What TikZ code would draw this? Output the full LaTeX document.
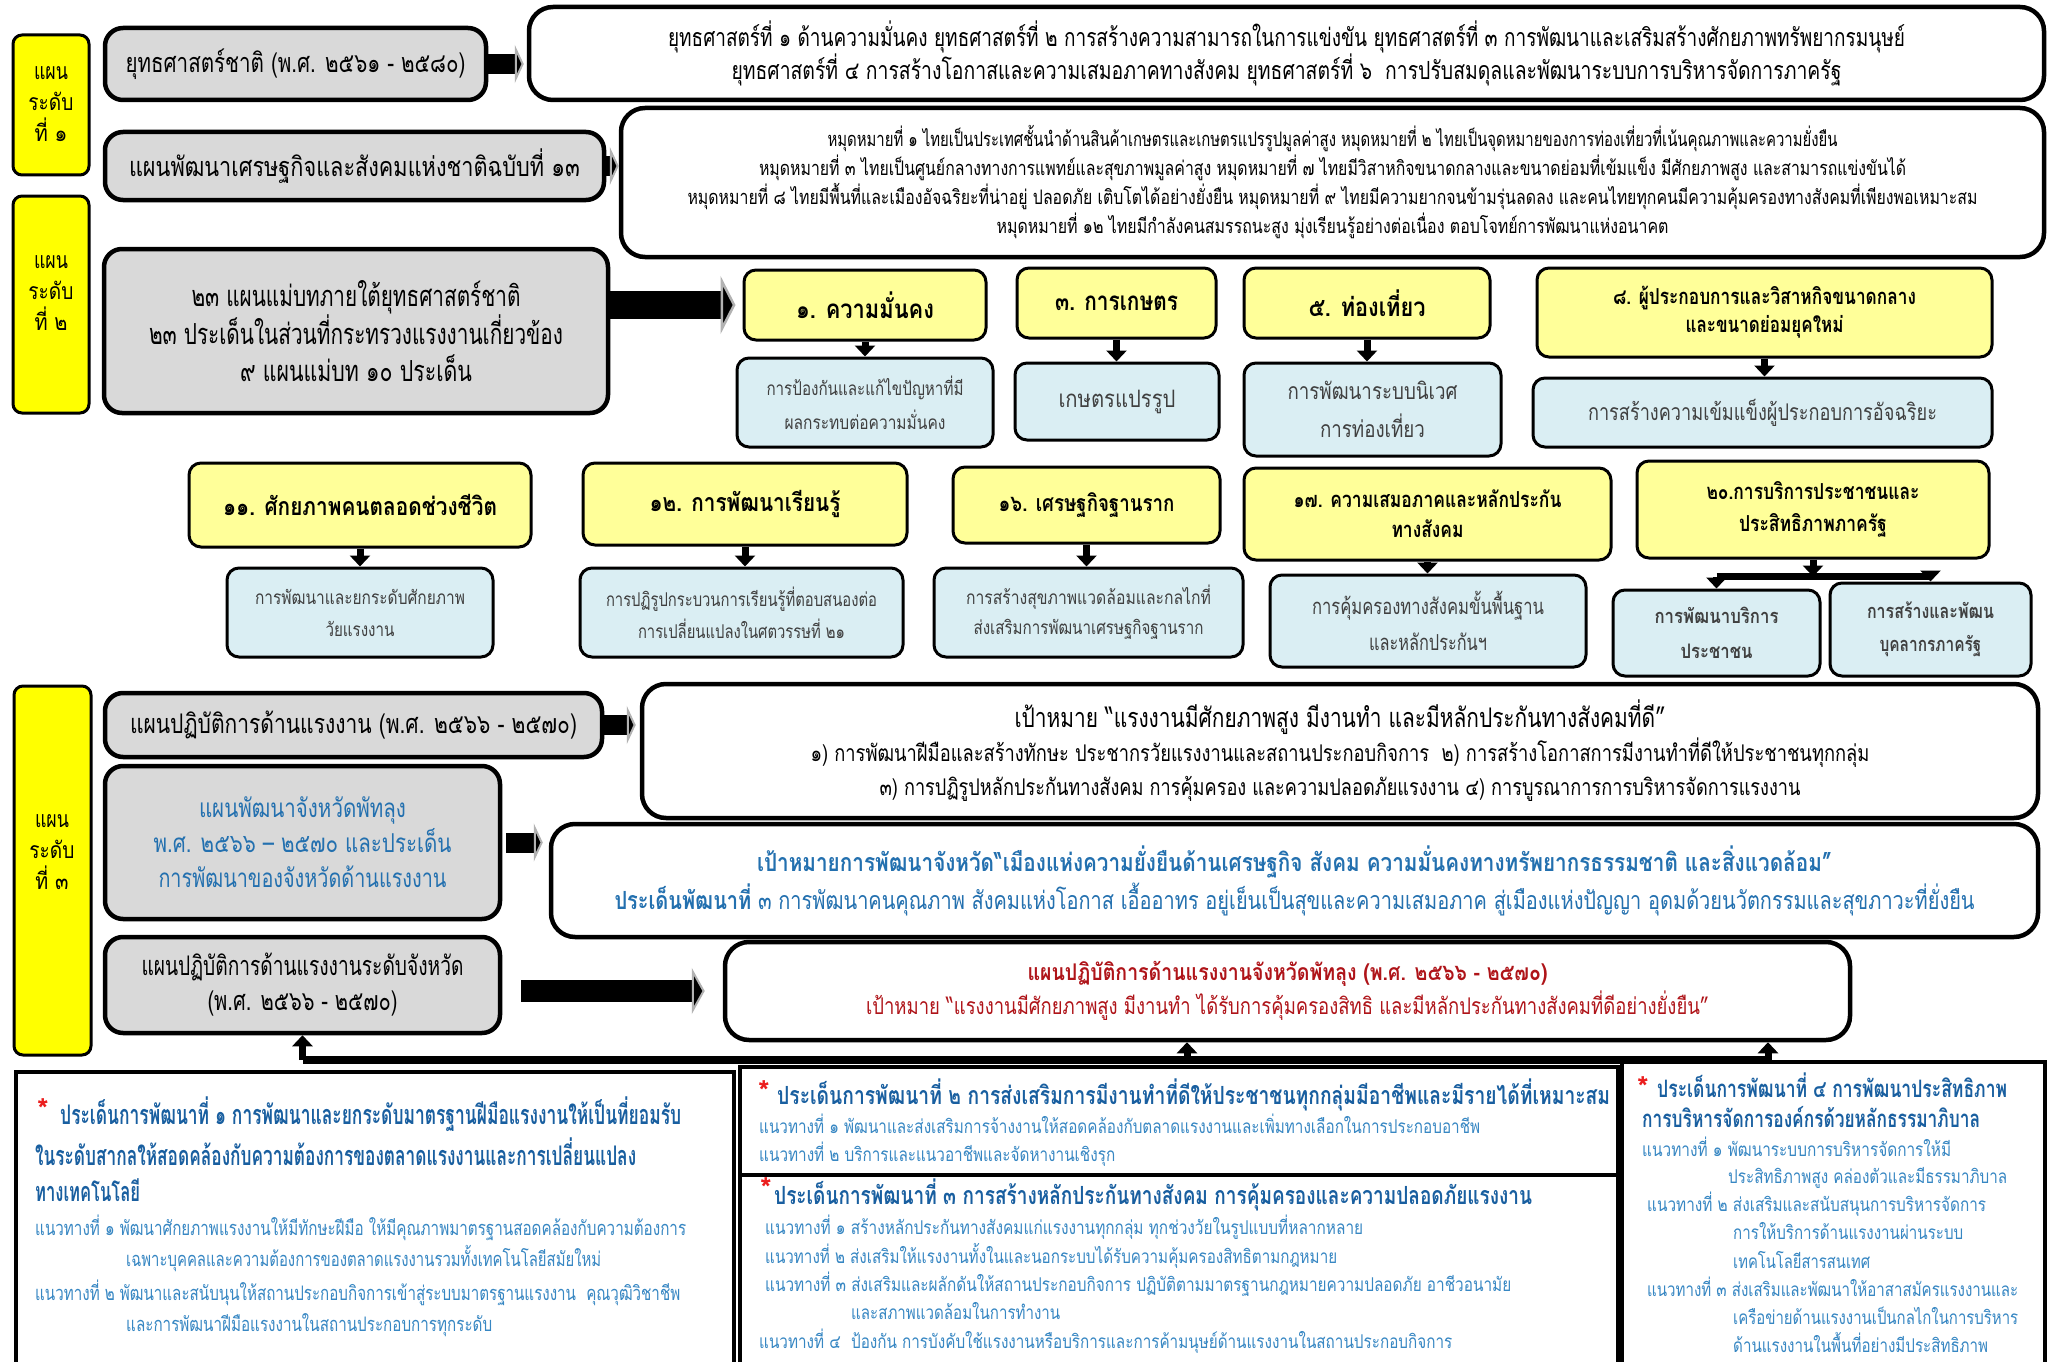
\documentclass[tikz,border=0pt]{standalone}
\usepackage{fontspec}
\setmainfont{Loma}[Script=Thai]
\usepackage{graphicx}
\usetikzlibrary{arrows.meta}
\definecolor{tagyellow}{RGB}{255,255,0}
\definecolor{boxgray}{RGB}{217,217,217}
\definecolor{lightyellow}{RGB}{255,255,153}
\definecolor{lightblue}{RGB}{218,238,243}
\definecolor{textblue}{RGB}{35,112,175}
\definecolor{headblue}{RGB}{25,95,160}
\definecolor{lineblue}{RGB}{55,135,195}
\definecolor{darkred}{RGB}{175,20,25}
\definecolor{starred}{RGB}{235,30,30}
\newsavebox\fitbx
\newlength\fitlen
\newcommand\fw[2]{\sbox\fitbx{#2}\setlength\fitlen{\wd\fitbx}\pgfmathsetmacro\fitr{#1/\fitlen}\scalebox{\fitr}[1]{\usebox\fitbx}}
\newcommand\fs[2]{\fontsize{#1}{#2}\selectfont}
\newcommand\bx[7]{\node[#1, minimum width={#5pt-#3pt}, minimum height={#6pt-#4pt}] (#2) at ({(#3+#5)/2},{(#4+#6)/2}) {#7};}
\tikzset{
 tagbox/.style={draw=black, line width=3pt, fill=tagyellow, rounded corners=9pt, inner sep=0pt},
 tagtxt/.style={inner sep=0pt, align=center, font=\fs{23}{31}},
 graybox/.style={draw=black, line width=4.5pt, fill=boxgray, rounded corners=18pt, inner sep=0pt, align=center},
 wbox/.style={draw=black, line width=4.5pt, fill=white, rounded corners=24pt, inner sep=0pt, align=center},
 ybox/.style={draw=black, line width=3pt, fill=lightyellow, rounded corners=12pt, inner sep=0pt, align=center},
 bbox/.style={draw=black, line width=3pt, fill=lightblue, rounded corners=12pt, inner sep=0pt, align=center, text=black!75},
 sqbox/.style={draw=black, line width=3.5pt, fill=white, inner sep=0pt},
 sarrow/.style={line width=20pt, -{Triangle[width=38pt,length=9pt,fill=black,color=gray!60,line width=2pt]}},
 barrow/.style={line width=28pt, -{Triangle[width=58pt,length=15pt,fill=black,color=gray!60,line width=2.5pt]}},
 carrow/.style={line width=22pt, -{Triangle[width=46pt,length=13pt,fill=black,color=gray!60,line width=2pt]}},
 darrow/.style={line width=7pt, -{Triangle[width=20pt,length=11pt]}},
 hbar/.style={line width=8pt},
 htxt/.style={anchor=base west, inner sep=0pt, font=\bfseries\fs{25}{28}, text=headblue},
 ltxt/.style={anchor=base west, inner sep=0pt, font=\fs{20}{24}, text=lineblue},
 startxt/.style={inner sep=0pt, font=\bfseries\fs{30}{30}, text=starred},
}
\begin{document}
\begin{tikzpicture}[x=1pt,y=-1pt]
\path[use as bounding box] (0,0) rectangle (2054,1362);
\clip (0,0) rectangle (2054,1362);
\fill[white] (0,0) rectangle (2054,1362);
% level tags
\bx{tagbox}{tag1}{13}{35}{89}{175}{}
\bx{tagbox}{tag2}{13}{196}{89}{413}{}
\bx{tagbox}{tag3}{14}{686}{91}{1055}{}
\node[tagtxt] (tt1) at (51,104) {\fw{34}{แผน}\\\fw{45}{ระดับ}\\\fw{33}{ที่ ๑}};
\node[tagtxt] (tt2) at (51,293) {\fw{34}{แผน}\\\fw{45}{ระดับ}\\\fw{33}{ที่ ๒}};
\node[tagtxt] (tt3) at (52,852) {\fw{34}{แผน}\\\fw{45}{ระดับ}\\\fw{33}{ที่ ๓}};
% level 1
\bx{graybox, font=\fs{27}{30}}{g1}{105}{28}{486}{100}{\fw{340}{ยุทธศาสตร์ชาติ (พ.ศ. ๒๕๖๑ - ๒๕๘๐)}}
\bx{wbox, font=\fs{25}{33}}{w1}{529}{7}{2044}{100}{\fw{1237}{ยุทธศาสตร์ที่ ๑ ด้านความมั่นคง ยุทธศาสตร์ที่ ๒ การสร้างความสามารถในการแข่งขัน ยุทธศาสตร์ที่ ๓ การพัฒนาและเสริมสร้างศักยภาพทรัพยากรมนุษย์}\\\fw{1110}{ยุทธศาสตร์ที่ ๔ การสร้างโอกาสและความเสมอภาคทางสังคม ยุทธศาสตร์ที่ ๖~ การปรับสมดุลและพัฒนาระบบการบริหารจัดการภาครัฐ}}
\bx{graybox, font=\fs{27}{30}}{g2}{105}{132}{604}{200}{\fw{451}{แผนพัฒนาเศรษฐกิจและสังคมแห่งชาติฉบับที่ ๑๓}}
\bx{wbox, font=\fs{20}{29}}{w2}{621}{108}{2044}{257}{\fw{1010}{หมุดหมายที่ ๑ ไทยเป็นประเทศชั้นนำด้านสินค้าเกษตรและเกษตรแปรรูปมูลค่าสูง หมุดหมายที่ ๒ ไทยเป็นจุดหมายของการท่องเที่ยวที่เน้นคุณภาพและความยั่งยืน}\\\fw{1147}{หมุดหมายที่ ๓ ไทยเป็นศูนย์กลางทางการแพทย์และสุขภาพมูลค่าสูง หมุดหมายที่ ๗ ไทยมีวิสาหกิจขนาดกลางและขนาดย่อมที่เข้มแข็ง มีศักยภาพสูง และสามารถแข่งขันได้}\\\fw{1290}{หมุดหมายที่ ๘ ไทยมีพื้นที่และเมืองอัจฉริยะที่น่าอยู่ ปลอดภัย เติบโตได้อย่างยั่งยืน หมุดหมายที่ ๙ ไทยมีความยากจนข้ามรุ่นลดลง และคนไทยทุกคนมีความคุ้มครองทางสังคมที่เพียงพอเหมาะสม}\\\fw{672}{หมุดหมายที่ ๑๒ ไทยมีกำลังคนสมรรถนะสูง มุ่งเรียนรู้อย่างต่อเนื่อง ตอบโจทย์การพัฒนาแห่งอนาคต}}
% level 2
\bx{graybox, font=\fs{29}{37}}{g3}{104}{249}{608}{413}{\fw{329}{๒๓ แผนแม่บทภายใต้ยุทธศาสตร์ชาติ}\\\fw{414}{๒๓ ประเด็นในส่วนที่กระทรวงแรงงานเกี่ยวข้อง}\\\fw{232}{๙ แผนแม่บท ๑๐ ประเด็น}}
\bx{ybox, font=\bfseries\fs{26}{30}}{y1}{744}{270}{986}{340}{\fw{138}{๑. ความมั่นคง}}
\bx{ybox, font=\bfseries\fs{26}{30}}{y3}{1017}{268}{1216}{338}{\fw{123}{๓. การเกษตร}}
\bx{ybox, font=\bfseries\fs{26}{30}}{y5}{1244}{268}{1490}{338}{\fw{117}{๕. ท่องเที่ยว}}
\bx{ybox, font=\bfseries\fs{22}{28}}{y8}{1537}{268}{1992}{357}{\fw{303}{๘. ผู้ประกอบการและวิสาหกิจขนาดกลาง}\\\fw{158}{และขนาดย่อมยุคใหม่}}
\bx{bbox, font=\fs{19}{34}}{b1}{737}{358}{993}{447}{\fw{197}{การป้องกันและแก้ไขปัญหาที่มี}\\\fw{161}{ผลกระทบต่อความมั่นคง}}
\bx{bbox, font=\fs{24}{30}}{b3}{1015}{363}{1219}{440}{\fw{117}{เกษตรแปรรูป}}
\bx{bbox, font=\fs{23}{38}}{b5}{1244}{363}{1501}{456}{\fw{170}{การพัฒนาระบบนิเวศ}\\\fw{105}{การท่องเที่ยว}}
\bx{bbox, font=\fs{23}{30}}{b8}{1533}{378}{1992}{447}{\fw{349}{การสร้างความเข้มแข็งผู้ประกอบการอัจฉริยะ}}
\bx{ybox, font=\bfseries\fs{25}{30}}{y11}{189}{463}{531}{547}{\fw{274}{๑๑. ศักยภาพคนตลอดช่วงชีวิต}}
\bx{ybox, font=\bfseries\fs{25}{30}}{y12}{583}{463}{907}{545}{\fw{191}{๑๒. การพัฒนาเรียนรู้}}
\bx{ybox, font=\bfseries\fs{23}{30}}{y16}{953}{467}{1220}{543}{\fw{176}{๑๖. เศรษฐกิจฐานราก}}
\bx{ybox, font=\bfseries\fs{22}{30}}{y17}{1244}{468}{1611}{560}{\fw{268}{๑๗. ความเสมอภาคและหลักประกัน}\\\fw{72}{ทางสังคม}}
\bx{ybox, font=\bfseries\fs{22}{32}}{y20}{1637}{461}{1989}{558}{\fw{213}{๒๐.การบริการประชาชนและ}\\\fw{148}{ประสิทธิภาพภาครัฐ}}
\bx{bbox, font=\fs{19}{32}}{b11}{227}{568}{493}{657}{\fw{210}{การพัฒนาและยกระดับศักยภาพ}\\\fw{69}{วัยแรงงาน}}
\bx{bbox, font=\fs{19}{32}}{b12}{580}{568}{903}{657}{\fw{271}{การปฏิรูปกระบวนการเรียนรู้ที่ตอบสนองต่อ}\\\fw{207}{การเปลี่ยนแปลงในศตวรรษที่ ๒๑}}
\bx{bbox, font=\fs{19}{30}}{b16}{934}{568}{1243}{657}{\fw{245}{การสร้างสุขภาพแวดล้อมและกลไกที่}\\\fw{230}{ส่งเสริมการพัฒนาเศรษฐกิจฐานราก}}
\bx{bbox, font=\fs{22}{36}}{b17}{1270}{575}{1586}{667}{\fw{232}{การคุ้มครองทางสังคมขั้นพื้นฐาน}\\\fw{118}{และหลักประกันฯ}}
\bx{bbox, font=\bfseries\fs{20}{35}}{b20a}{1613}{590}{1820}{676}{\fw{124}{การพัฒนาบริการ}\\\fw{72}{ประชาชน}}
\bx{bbox, font=\bfseries\fs{20}{33}}{b20b}{1830}{583}{2031}{676}{\fw{127}{การสร้างและพัฒน}\\\fw{102}{บุคลากรภาครัฐ}}
% level 3
\bx{graybox, font=\fs{27}{30}}{g4}{105}{693}{602}{757}{\fw{447}{แผนปฏิบัติการด้านแรงงาน (พ.ศ. ๒๕๖๖ - ๒๕๗๐)}}
\bx{wbox, font=\fs{23}{34}}{w3}{642}{684}{2038}{818}{{\fs{27}{34}\fw{651}{เป้าหมาย “แรงงานมีศักยภาพสูง มีงานทำ และมีหลักประกันทางสังคมที่ดี”}}\\\fw{1059}{๑) การพัฒนาฝีมือและสร้างทักษะ ประชากรวัยแรงงานและสถานประกอบกิจการ~ ๒) การสร้างโอกาสการมีงานทำที่ดีให้ประชาชนทุกกลุ่ม}\\\fw{921}{๓) การปฏิรูปหลักประกันทางสังคม การคุ้มครอง และความปลอดภัยแรงงาน ๔) การบูรณาการการบริหารจัดการแรงงาน}}
\bx{graybox, font=\fs{26}{35}, text=textblue}{g5}{105}{766}{500}{919}{\fw{207}{แผนพัฒนาจังหวัดพัทลุง}\\\fw{298}{พ.ศ. ๒๕๖๖ – ๒๕๗๐ และประเด็น}\\\fw{288}{การพัฒนาของจังหวัดด้านแรงงาน}}
\bx{wbox, font=\fs{25}{38}, text=textblue}{w4}{551}{824}{2038}{937}{\fw{1075}{\bfseries เป้าหมายการพัฒนาจังหวัด“เมืองแห่งความยั่งยืนด้านเศรษฐกิจ สังคม ความมั่นคงทางทรัพยากรธรรมชาติ และสิ่งแวดล้อม”}\\\fw{1360}{\textbf{ประเด็นพัฒนาที่} ๓ การพัฒนาคนคุณภาพ สังคมแห่งโอกาส เอื้ออาทร อยู่เย็นเป็นสุขและความเสมอภาค สู่เมืองแห่งปัญญา อุดมด้วยนวัตกรรมและสุขภาวะที่ยั่งยืน}}
\bx{graybox, font=\fs{27}{35}}{g6}{105}{937}{500}{1033}{\fw{322}{แผนปฏิบัติการด้านแรงงานระดับจังหวัด}\\\fw{190}{(พ.ศ. ๒๕๖๖ - ๒๕๗๐)}}
\bx{wbox, font=\fs{23}{34}, text=darkred}{w5}{725}{942}{1850}{1040}{\fw{520}{\bfseries แผนปฏิบัติการด้านแรงงานจังหวัดพัทลุง (พ.ศ. ๒๕๖๖ - ๒๕๗๐)}\\\fw{843}{เป้าหมาย “แรงงานมีศักยภาพสูง มีงานทำ ได้รับการคุ้มครองสิทธิ และมีหลักประกันทางสังคมที่ดีอย่างยั่งยืน”}}
% arrows level 1-3
\draw[sarrow, shorten >=3pt] (g1.east) -- (g1.east -| w1.west);
\draw[sarrow] (g2.east) -- (g2.east -| w2.west);
\draw[barrow, shorten >=7pt] (g3.east |- y1.west) -- (y1.west);
\draw[sarrow, shorten >=4pt] (g4.east) -- (g4.east -| w3.west);
\draw[sarrow, shorten <=4pt, shorten >=6pt] (g5.east) -- (g5.east -| w4.west);
\draw[carrow, shorten <=19pt, shorten >=18pt] (g6.east |- w5.west) -- (w5.west);
\foreach \a/\b in {y1/b1,y3/b3,y5/b5,y8/b8,y11/b11,y12/b12,y16/b16,y17/b17}
  \draw[darrow] (\a.south) -- (\a.south |- \b.north);
\path (y20.south) ++(0,17) coordinate (j20);
\draw[darrow] (y20.south) -- (j20);
\draw[line width=7pt] (j20 -| b20a.north) -- (j20 -| b20b.north);
\draw[darrow] (j20 -| b20a.north) -- (b20a.north);
\draw[darrow] (j20 -| b20b.north) -- (b20b.north);
% bottom boxes
\bx{sqbox}{p1}{16}{1072}{734}{1420}{}
\bx{sqbox}{p2}{740}{1067}{1618}{1175}{}
\bx{sqbox}{p3}{740}{1175}{1618}{1420}{}
\bx{sqbox}{p4}{1622}{1062}{2045}{1420}{}
\coordinate (hb) at (0,1060);
\coordinate (k1) at (g6.south |- hb);
\coordinate (k2) at (1187,1060);
\coordinate (k3) at (1768,1060);
\draw[hbar] (k1) -- (k3);
\draw[darrow] (k1) -- (g6.south);
\draw[darrow] (k2) -- (k2 |- w5.south);
\draw[darrow] (k3) -- (k3 |- w5.south);
% bottom left text
\node[startxt] (s1) at (43,1110) {*};
\node[htxt, font=\bfseries\fs{27}{28}] (p1a) at (60,1124) {\fw{621}{ประเด็นการพัฒนาที่ ๑ การพัฒนาและยกระดับมาตรฐานฝีมือแรงงานให้เป็นที่ยอมรับ}};
\node[htxt, font=\bfseries\fs{27}{28}] (p1b) at (35,1165) {\fw{601}{ในระดับสากลให้สอดคล้องกับความต้องการของตลาดแรงงานและการเปลี่ยนแปลง}};
\node[htxt, font=\bfseries\fs{27}{28}] (p1c) at (35,1201) {\fw{105}{ทางเทคโนโลยี}};
\node[ltxt] (p1d) at (35,1235) {\fw{651}{แนวทางที่ ๑ พัฒนาศักยภาพแรงงานให้มีทักษะฝีมือ ให้มีคุณภาพมาตรฐานสอดคล้องกับความต้องการ}};
\node[ltxt] (p1e) at (126,1266) {\fw{475}{เฉพาะบุคคลและความต้องการของตลาดแรงงานรวมทั้งเทคโนโลยีสมัยใหม่}};
\node[ltxt] (p1f) at (35,1300) {\fw{645}{แนวทางที่ ๒ พัฒนาและสนับนุนให้สถานประกอบกิจการเข้าสู่ระบบมาตรฐานแรงงาน~ คุณวุฒิวิชาชีพ}};
\node[ltxt] (p1g) at (126,1331) {\fw{366}{และการพัฒนาฝีมือแรงงานในสถานประกอบการทุกระดับ}};
% bottom middle top
\node[startxt] (s2) at (764,1092) {*};
\node[htxt] (p2a) at (777,1104) {\fw{833}{ประเด็นการพัฒนาที่ ๒ การส่งเสริมการมีงานทำที่ดีให้ประชาชนทุกกลุ่มมีอาชีพและมีรายได้ที่เหมาะสม}};
\node[ltxt, font=\fs{19}{24}] (p2b) at (759,1133) {\fw{721}{แนวทางที่ ๑ พัฒนาและส่งเสริมการจ้างงานให้สอดคล้องกับตลาดแรงงานและเพิ่มทางเลือกในการประกอบอาชีพ}};
\node[ltxt, font=\fs{19}{24}] (p2c) at (759,1161) {\fw{356}{แนวทางที่ ๒ บริการและแนวอาชีพและจัดหางานเชิงรุก}};
% bottom middle lower
\node[startxt] (s3) at (766,1189) {*};
\node[htxt] (p3a) at (774,1204) {\fw{758}{ประเด็นการพัฒนาที่ ๓ การสร้างหลักประกันทางสังคม การคุ้มครองและความปลอดภัยแรงงาน}};
\node[ltxt, font=\fs{19}{24}] (p3b) at (765,1234) {\fw{598}{แนวทางที่ ๑ สร้างหลักประกันทางสังคมแก่แรงงานทุกกลุ่ม ทุกช่วงวัยในรูปแบบที่หลากหลาย}};
\node[ltxt, font=\fs{19}{24}] (p3c) at (765,1263) {\fw{572}{แนวทางที่ ๒ ส่งเสริมให้แรงงานทั้งในและนอกระบบได้รับความคุ้มครองสิทธิตามกฎหมาย}};
\node[ltxt, font=\fs{19}{24}] (p3d) at (765,1291) {\fw{746}{แนวทางที่ ๓ ส่งเสริมและผลักดันให้สถานประกอบกิจการ ปฏิบัติตามมาตรฐานกฎหมายความปลอดภัย อาชีวอนามัย}};
\node[ltxt, font=\fs{19}{24}] (p3e) at (851,1319) {\fw{209}{และสภาพแวดล้อมในการทำงาน}};
\node[ltxt, font=\fs{19}{24}] (p3f) at (759,1348) {\fw{693}{แนวทางที่ ๔~ ป้องกัน การบังคับใช้แรงงานหรือบริการและการค้ามนุษย์ด้านแรงงานในสถานประกอบกิจการ}};
% bottom right
\node[startxt] (s4) at (1643,1088) {*};
\node[htxt, font=\bfseries\fs{24}{28}] (p4a) at (1657,1097) {\fw{350}{ประเด็นการพัฒนาที่ ๔ การพัฒนาประสิทธิภาพ}};
\node[htxt, font=\bfseries\fs{24}{28}] (p4b) at (1642,1127) {\fw{338}{การบริหารจัดการองค์กรด้วยหลักธรรมาภิบาล}};
\node[ltxt, font=\fs{19}{24}] (p4c) at (1642,1156) {\fw{309}{แนวทางที่ ๑ พัฒนาระบบการบริหารจัดการให้มี}};
\node[ltxt, font=\fs{19}{24}] (p4d) at (1728,1183) {\fw{279}{ประสิทธิภาพสูง คล่องตัวและมีธรรมาภิบาล}};
\node[ltxt, font=\fs{19}{24}] (p4e) at (1647,1211) {\fw{339}{แนวทางที่ ๒ ส่งเสริมและสนับสนุนการบริหารจัดการ}};
\node[ltxt, font=\fs{19}{24}] (p4f) at (1733,1239) {\fw{230}{การให้บริการด้านแรงงานผ่านระบบ}};
\node[ltxt, font=\fs{19}{24}] (p4g) at (1733,1268) {\fw{137}{เทคโนโลยีสารสนเทศ}};
\node[ltxt, font=\fs{19}{24}] (p4h) at (1647,1296) {\fw{371}{แนวทางที่ ๓ ส่งเสริมและพัฒนาให้อาสาสมัครแรงงานและ}};
\node[ltxt, font=\fs{19}{24}] (p4i) at (1733,1324) {\fw{285}{เครือข่ายด้านแรงงานเป็นกลไกในการบริหาร}};
\node[ltxt, font=\fs{19}{24}] (p4j) at (1733,1352) {\fw{255}{ด้านแรงงานในพื้นที่อย่างมีประสิทธิภาพ}};
\end{tikzpicture}
\end{document}
